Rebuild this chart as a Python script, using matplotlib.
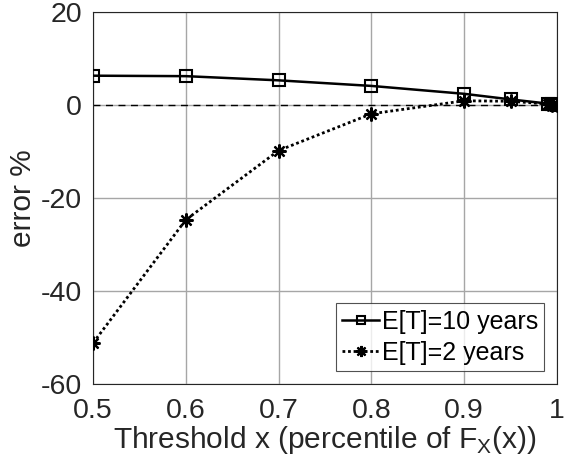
import matplotlib
matplotlib.use("Agg")
import matplotlib.pyplot as plt

# Threshold percentiles and relative error (%) for two mean inter-arrival times
thresholds = [0.5, 0.6, 0.7, 0.8, 0.9, 0.95, 0.99, 0.995, 1.0]
err_10y = [6.3, 6.2, 5.3, 4.1, 2.4, 1.2, 0.3, 0.15, 0.0]
err_2y = [-51.2, -24.7, -9.8, -1.9, 0.9, 0.8, 0.2, 0.1, 0.0]

x_ticks = [0.5, 0.6, 0.7, 0.8, 0.9, 1.0]
x_tick_labels = ["0.5", "0.6", "0.7", "0.8", "0.9", "1"]
y_ticks = [-60, -40, -20, 0, 20]

plt.rcParams["font.family"] = ["Liberation Sans", "DejaVu Sans"]
plt.rcParams["axes.unicode_minus"] = False

fig = plt.figure(figsize=(5.64, 4.71), dpi=100)
ax = fig.add_axes([0.165, 0.185, 0.8225, 0.7895])

ax.axhline(0, color="black", lw=1.0, ls=(0, (5, 4)), zorder=2)

ax.plot(thresholds, err_10y, color="black", lw=1.8, marker="s", ms=8,
        mfc="none", mec="black", mew=1.5, label="E[T]=10 years", zorder=3)
ax.plot(thresholds, err_2y, color="black", lw=2.0, ls=(0, (1, 1)),
        marker=(8, 2, 0), ms=10, mec="black", mew=1.6,
        label="E[T]=2 years", zorder=3)

ax.set_xlim(0.5, 1.0)
ax.set_ylim(-60, 20)
ax.set_xticks(x_ticks)
ax.set_xticklabels(x_tick_labels)
ax.set_yticks(y_ticks)
ax.grid(True, color="#a6a6a6", lw=1.0, zorder=0)
ax.set_axisbelow(True)

for sp in ax.spines.values():
    sp.set_color("#262626")
    sp.set_linewidth(0.8)
ax.tick_params(direction="in", length=0, labelsize=20.5, colors="#262626")
ax.tick_params(axis="x", pad=10)
ax.tick_params(axis="y", pad=8)

ax.set_xlabel(r"Threshold x (percentile of F$_\mathregular{X}$(x))",
              fontsize=21.5, color="#262626", labelpad=0)
ax.set_ylabel("error %", fontsize=21.5, color="#262626", labelpad=3)

leg = ax.legend(loc="lower right", fontsize=18, frameon=True, fancybox=False,
                edgecolor="#262626", handlelength=1.5, handletextpad=0.1,
                borderpad=0.25, labelspacing=0.3, borderaxespad=0.5,
                markerscale=0.8)
leg.get_frame().set_linewidth(0.8)

fig.savefig("out.png", dpi=100)
